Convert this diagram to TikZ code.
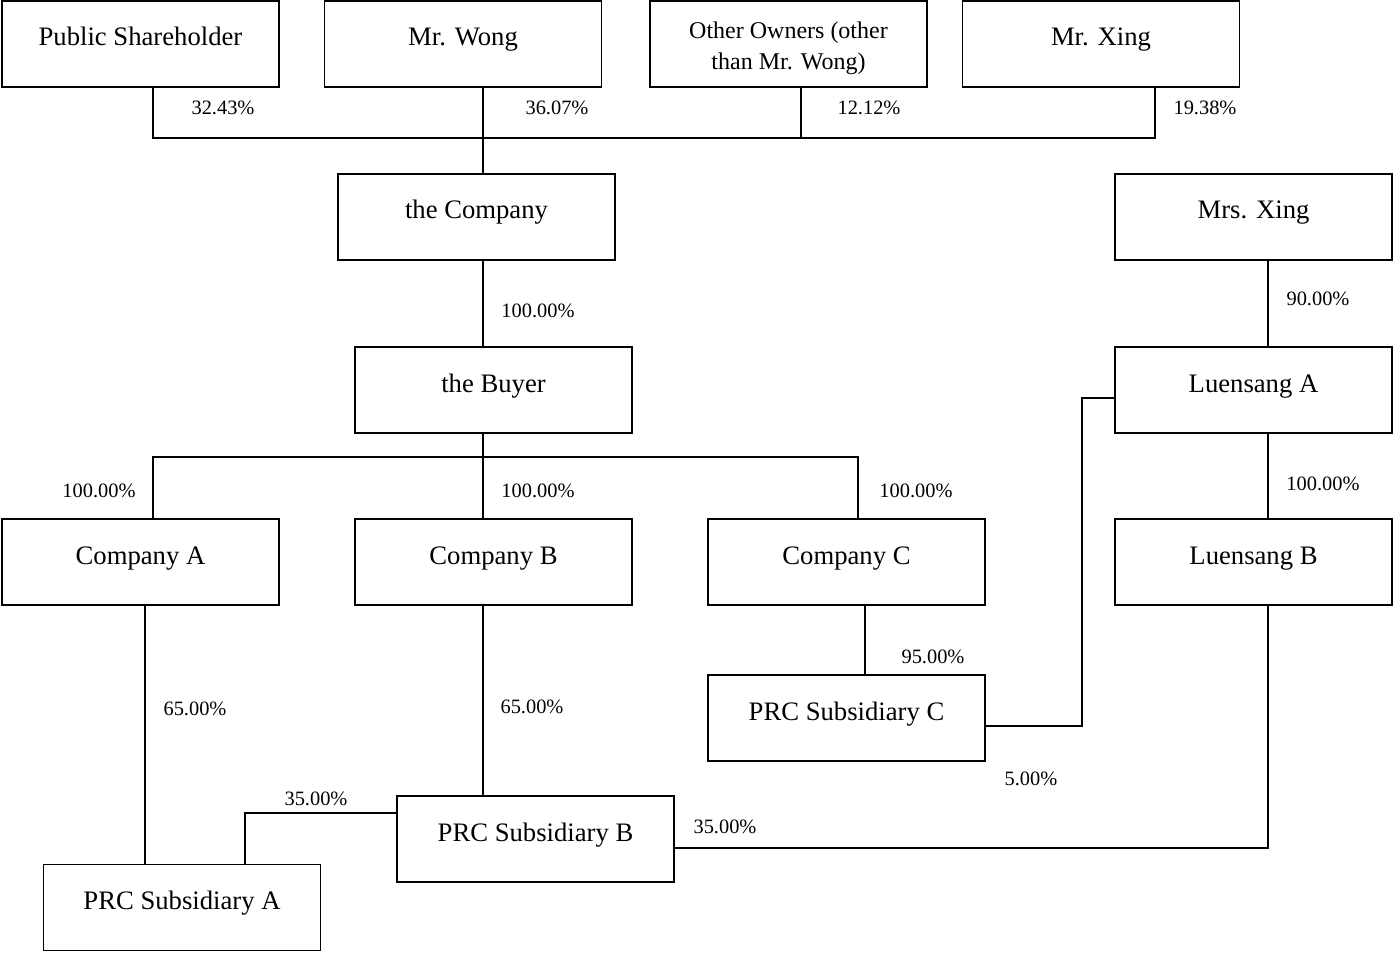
\documentclass[tikz,border=0pt]{standalone}
\usepackage{fontspec}
\setmainfont{Liberation Serif}
\begin{document}
\begin{tikzpicture}[x=0.75pt,y=-0.75pt,
  box/.style={draw, line width=1.1pt, minimum width=208pt, minimum height=64.5pt, inner sep=0pt,
    font=\fontsize{20}{24}\selectfont, text height=10pt, text depth=7pt},
  box2/.style={draw, line width=1.1pt, minimum width=208pt, minimum height=64.5pt, inner sep=0pt,
    font=\fontsize{18}{23.25}\selectfont, align=center},
  pct/.style={font=\fontsize{15.3}{18}\selectfont, inner sep=0pt},
  ln/.style={line width=1.1pt}]
\useasboundingbox (0,0) rectangle (1394,952);
% boxes
\node[box] (ps) at (140.5,44) {Public Shareholder};
\node[box] (wong) at (463,44) {Mr. Wong};
\node[box2] (other) at (788.5,44) {\rule{0pt}{19pt}Other Owners (other\\than Mr. Wong)};
\node[box] (xing) at (1101,44) {Mr. Xing};
\node[box] (comp) at (476.5,217) {the Company};
\node[box] (mrsx) at (1253.5,217) {Mrs. Xing};
\node[box] (buyer) at (493.5,390) {the Buyer};
\node[box] (la) at (1253.5,390) {Luensang A};
\node[box] (ca) at (140.5,562) {Company A};
\node[box] (cb) at (493.5,562) {Company B};
\node[box] (cc) at (846.5,562) {Company C};
\node[box] (lb) at (1253.5,562) {Luensang B};
\node[box] (pc) at (846.5,718) {PRC Subsidiary C};
\node[box] (pb) at (535.5,839) {PRC Subsidiary B};
\node[box] (pa) at (182,907.5) {PRC Subsidiary A};
% coordinates
\coordinate (t1) at (153,138);
\coordinate (t2) at (483,138);
\coordinate (t3) at (801,138);
\coordinate (t4) at (1155,138);
\coordinate (m1) at (153,457);
\coordinate (m2) at (483,457);
\coordinate (m3) at (858,457);
\coordinate (r) at (1268,0);
\coordinate (k1) at (1082,398);
\coordinate (k2) at (1082,726);
\coordinate (cx) at (865,0);
\coordinate (ax) at (145,0);
\coordinate (j) at (245,813);
\coordinate (q) at (1268,848);
% connectors
\draw[ln] (t1 |- ps.south) -- (t1) -- (t4) -- (t4 |- xing.south);
\draw[ln] (t2 |- wong.south) -- (t2 |- comp.north);
\draw[ln] (t3 |- other.south) -- (t3);
\draw[ln] (t2 |- comp.south) -- (t2 |- buyer.north);
\draw[ln] (m2 |- buyer.south) -- (m2 |- cb.north);
\draw[ln] (m1 |- ca.north) -- (m1) -- (m3) -- (m3 |- cc.north);
\draw[ln] (r |- mrsx.south) -- (r |- la.north);
\draw[ln] (r |- la.south) -- (r |- lb.north);
\draw[ln] (la.west |- k1) -- (k1) -- (k2) -- (pc.east |- k2);
\draw[ln] (cx |- cc.south) -- (cx |- pc.north);
\draw[ln] (ax |- ca.south) -- (ax |- pa.north);
\draw[ln] (m2 |- cb.south) -- (m2 |- pb.north);
\draw[ln] (pb.west |- j) -- (j) -- (j |- pa.north);
\draw[ln] (q |- lb.south) -- (q) -- (pb.east |- q);
% labels
\node[pct] (l1) at (223,108) {32.43\%};
\node[pct] (l2) at (557,108) {36.07\%};
\node[pct] (l3) at (869,108) {12.12\%};
\node[pct] (l4) at (1205,108) {19.38\%};
\node[pct] (l5) at (538,311) {100.00\%};
\node[pct] (l6) at (1318,299) {90.00\%};
\node[pct] (l7) at (99,491) {100.00\%};
\node[pct] (l8) at (538,491) {100.00\%};
\node[pct] (l9) at (916,491) {100.00\%};
\node[pct] (l10) at (1323,484) {100.00\%};
\node[pct] (l11) at (195,709) {65.00\%};
\node[pct] (l12) at (532,707) {65.00\%};
\node[pct] (l13) at (933,657) {95.00\%};
\node[pct] (l14) at (1031,779) {5.00\%};
\node[pct] (l15) at (316,799) {35.00\%};
\node[pct] (l16) at (725,827) {35.00\%};
\end{tikzpicture}
\end{document}
